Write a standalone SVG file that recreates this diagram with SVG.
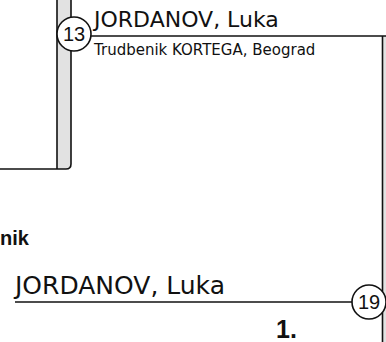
<svg xmlns="http://www.w3.org/2000/svg" width="386" height="342" viewBox="0 0 386 342">
<style>
.ln{stroke:#111;stroke-width:1.6;fill:none}
.bar{fill:#e2e2e2;stroke:none}
.circ{fill:#fff;stroke:#111;stroke-width:1.6}
.num{font-family:"Liberation Sans",Arial,sans-serif;font-size:20px;fill:#111;text-anchor:middle}
.nm{font-family:"DejaVu Sans",sans-serif;fill:#111}
.bold{font-family:"Liberation Sans",Arial,sans-serif;font-weight:bold;fill:#111}
</style>
<rect width="386" height="342" fill="#fff"/>
<g id="connectors">
<path class="bar" d="M57,0 H71 V164 Q71,169 66,169 H57 Z"/>
<path class="ln" d="M57,0 V169"/>
<path class="ln" d="M71,0 V164 Q71,169 66,169 H0"/>
<rect class="bar" x="383" y="36" width="3" height="306"/>
<path class="ln" d="M90,36 H386"/>
<path class="ln" d="M382.5,36 V342"/>
<path class="ln" d="M15,302 H353"/>
</g>
<g id="node13">
<circle class="circ" cx="74" cy="34" r="17"/>
<text class="num" x="74" y="41">13</text>
<text class="nm" x="94" y="27" font-size="22">JORDANOV, Luka</text>
<text class="nm" x="94" y="55" font-size="15">Trudbenik KORTEGA, Beograd</text>
</g>
<g id="node19">
<circle class="circ" cx="369" cy="302" r="17"/>
<text class="num" x="369" y="309">19</text>
</g>
<g id="label">
<text class="bold" x="0" y="245" font-size="20">nik</text>
<text class="nm" x="15" y="294" font-size="25">JORDANOV, Luka</text>
<text class="bold" x="276" y="338" font-size="25">1.</text>
</g>
</svg>
